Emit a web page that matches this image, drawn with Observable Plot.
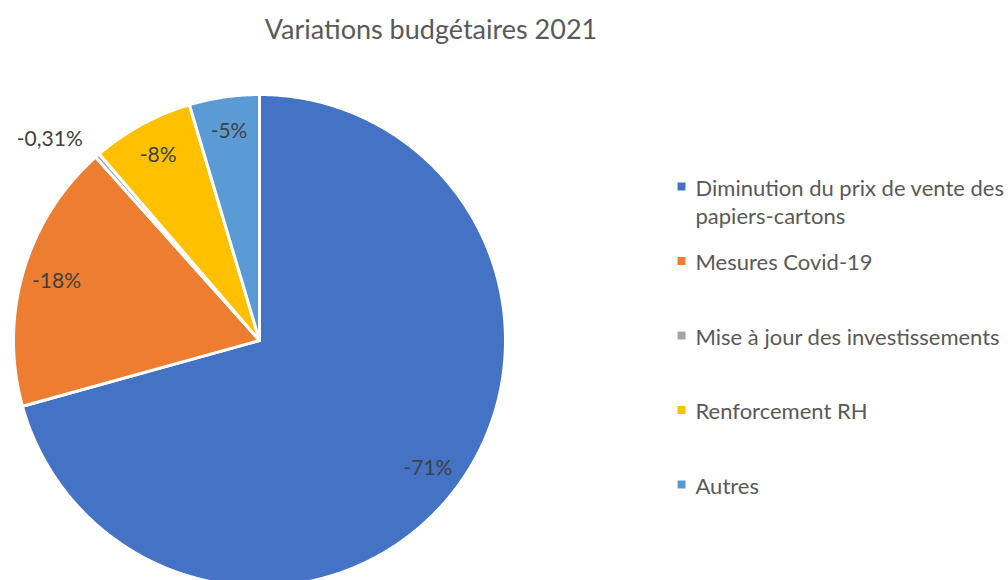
<!DOCTYPE html>
<html>
<head>
<meta charset="utf-8">
<script src="https://cdn.jsdelivr.net/npm/d3@7"></script>
<script src="https://cdn.jsdelivr.net/npm/@observablehq/plot@0.6"></script>
<style>
  html, body { margin: 0; padding: 0; background: #fff; overflow: hidden; }
  #title { width: 862px; height: 56px; line-height: 58px; text-align: center;
           font-family: Lato, "Open Sans", sans-serif; font-size: 27px; color: #595959; }
  #chart svg { display: block; overflow: hidden; }
</style>
</head>
<body>
<div id="title"></div>
<div id="chart"></div>
<script>
const chartTitle = "Variations budgétaires 2021";
const categories = [
  "Diminution du prix de vente des papiers-cartons",
  "Mesures Covid-19",
  "Mise à jour des investissements",
  "Renforcement RH",
  "Autres"
];
const shares = [70.7, 17.7, 0.31, 6.7, 4.6];
const sliceLabels = ["-71%", "-18%", "-0,31%", "-8%", "-5%"];
const colors = ["#4472C4", "#ED7D31", "#A5A5A5", "#FFC000", "#5B9BD5"];

document.getElementById("title").textContent = chartTitle;

const W = 1008, H = 524;
const cx = 259, cy = 284, R = 246;
const total = d3.sum(shares);

// build slice polygons
const piePts = [];
const labelPts = [];
let acc = 0;
shares.forEach((v, i) => {
  const a0 = acc / total * 2 * Math.PI;
  acc += v;
  const a1 = acc / total * 2 * Math.PI;
  const cat = categories[i];
  piePts.push({cat, x: cx, y: cy});
  const n = Math.max(2, Math.ceil((a1 - a0) / (Math.PI / 360)));
  for (let k = 0; k <= n; k++) {
    const a = a0 + (a1 - a0) * k / n;
    piePts.push({cat, x: cx + R * Math.sin(a), y: cy - R * Math.cos(a)});
  }
  const am = (a0 + a1) / 2;
  const outside = v < 1;
  const f = outside ? 1.09 : 0.86;
  labelPts.push({text: sliceLabels[i], x: cx + f * R * Math.sin(am), y: cy - f * R * Math.cos(am),
                 anchor: outside ? "end" : "middle"});
});

// legend
const legX = 681, legTextX = 695, legY0 = 186 - 56, legStep = 74.5, lh = 1.3, fs = 22;
const legend = categories.map((c, i) => {
  const text = c.replace("des papiers", "des\npapiers");
  const lines = text.split("\n").length;
  const y = legY0 + i * legStep;
  return {cat: c, text, y, ty: y + (lines - 1) * lh * fs / 2};
});

const labelStyle = {x: "x", y: "y", text: "text", fill: "#404040", fontSize: 21};

const plot = Plot.plot({
  width: W, height: H,
  margin: 0,
  x: {domain: [0, W], range: [0, W], axis: null},
  y: {domain: [0, H], range: [0, H], axis: null},
  color: {domain: categories, range: colors},
  style: {fontFamily: "Lato, 'Open Sans', sans-serif"},
  marks: [
    Plot.line(piePts, {x: "x", y: "y", z: "cat", fill: "cat", stroke: "white", strokeWidth: 3, curve: "linear-closed", strokeLinejoin: "round"}),
    Plot.text(labelPts.filter(d => d.anchor === "middle"), labelStyle),
    Plot.text(labelPts.filter(d => d.anchor === "end"), {...labelStyle, textAnchor: "end"}),
    Plot.dot(legend, {x: () => legX, y: "y", symbol: "square", r: 4.5, fill: "cat", stroke: null}),
    Plot.text(legend, {x: () => legTextX, y: "ty", text: "text", textAnchor: "start", lineAnchor: "middle", lineHeight: lh, fill: "#595959", fontSize: fs})
  ]
});
document.getElementById("chart").appendChild(plot);
</script>
</body>
</html>
